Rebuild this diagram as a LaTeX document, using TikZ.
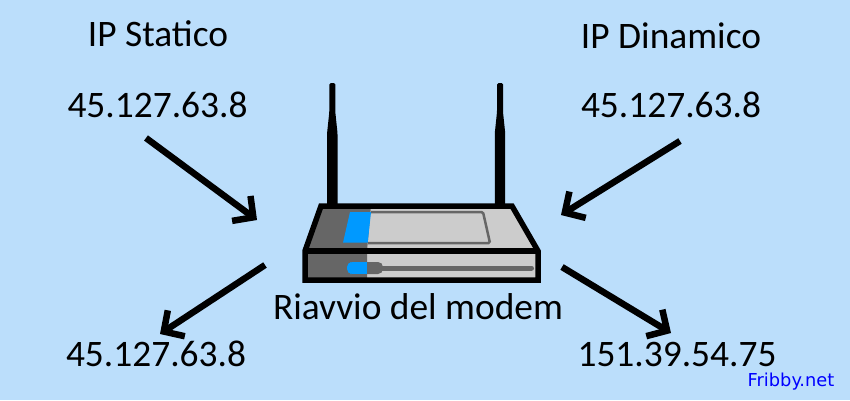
\documentclass[tikz,border=0pt]{standalone}
\usepackage{fontspec}
\setmainfont{Carlito}
\newfontfamily\brandfont{DejaVu Sans}
\definecolor{background}{RGB}{187, 222, 251}
\definecolor{casedark}{RGB}{102, 102, 102}
\definecolor{caselight}{RGB}{204, 204, 204}
\definecolor{ledblue}{RGB}{0, 153, 255}
\usetikzlibrary{arrows.meta}

\begin{document}
\begin{tikzpicture}[
                x=1pt, y=-1pt,
                label/.style={anchor=base, inner sep=0pt, font=\fontsize{37.4}{37.4}\selectfont},
                brand/.style={anchor=base, inner sep=0pt, text=blue, font=\brandfont\fontsize{17.8}{17.8}\selectfont},
                arrow/.style={line width=6.5pt, -{Straight Barb[length=15pt, width=31pt, line width=6.5pt]}},
                edge/.style={line width=5.5pt, line join=miter, draw=black}
            ]%
            \fill[background] (0,0) rectangle (850,400);
            %
            % Antenne
            \foreach \ax in {332.3,500} {
                \fill[black, rounded corners=1.5pt] (\ax-3,83) -- (\ax+3,83) -- (\ax+3,112) -- (\ax+5.2,133) -- (\ax+5.2,210) -- (\ax-5.2,210) -- (\ax-5.2,133) -- (\ax-3,112) -- cycle;
            }
            %
            % Modem
            \fill[caselight] (321,206) -- (512,206) -- (538,251) -- (538,280) -- (305,280) -- (305,251) -- cycle;
            \fill[casedark] (321,206) -- (371,206) -- (367,251) -- (367,280) -- (305,280) -- (305,251) -- cycle;
            \draw[casedark, line width=2.5pt, rounded corners=1.5pt] (371,212) -- (483,212) -- (490,243) -- (368,243);
            \fill[ledblue] (350,212) -- (371,212) -- (367.7,242.7) -- (343,242.7) -- cycle;
            \draw[casedark, line width=5pt, line cap=round] (375,268) -- (531.5,268);
            \fill[casedark, rounded corners=5pt] (360,262) rectangle (383,274);
            \fill[ledblue, rounded corners=5pt] (347,262) -- (355,262) -- (355,274) -- (347,274) -- cycle;
            \fill[ledblue] (352,262) rectangle (367,274);
            \draw[edge] (321,206) -- (512,206) -- (538,251) -- (538,280) -- (305,280) -- (305,251) -- cycle;
            \draw[edge] (305,251) -- (538,251);
            %
            % Testi
            \node[label] (static_title) at (158,46) {IP Statico};
            \node[label] (dynamic_title) at (671,48) {IP Dinamico};
            \node[label] (static_ip) at (157.5,117) {45.127.63.8};
            \node[label] (dynamic_ip) at (671,117) {45.127.63.8};
            \node[label] (static_new) at (156,366) {45.127.63.8};
            \node[label] (dynamic_new) at (677,366) {151.39.54.75};
            \node[label] (reboot) at (418,319) {Riavvio del modem};
            \node[brand] (fribby) at (791,386) {Fribby.net};
            %
            % Frecce
            \coordinate (a1s) at (146,138);
            \coordinate (a1e) at (257,220);
            \coordinate (a2s) at (680,141);
            \coordinate (a2e) at (561,215);
            \coordinate (a3s) at (265,265);
            \coordinate (a3e) at (160,334);
            \coordinate (a4s) at (562,267);
            \coordinate (a4e) at (671,333);
            \draw[arrow] (a1s) -- (a1e);
            \draw[arrow] (a2s) -- (a2e);
            \draw[arrow] (a3s) -- (a3e);
            \draw[arrow] (a4s) -- (a4e);
        \end{tikzpicture}
\end{document}
